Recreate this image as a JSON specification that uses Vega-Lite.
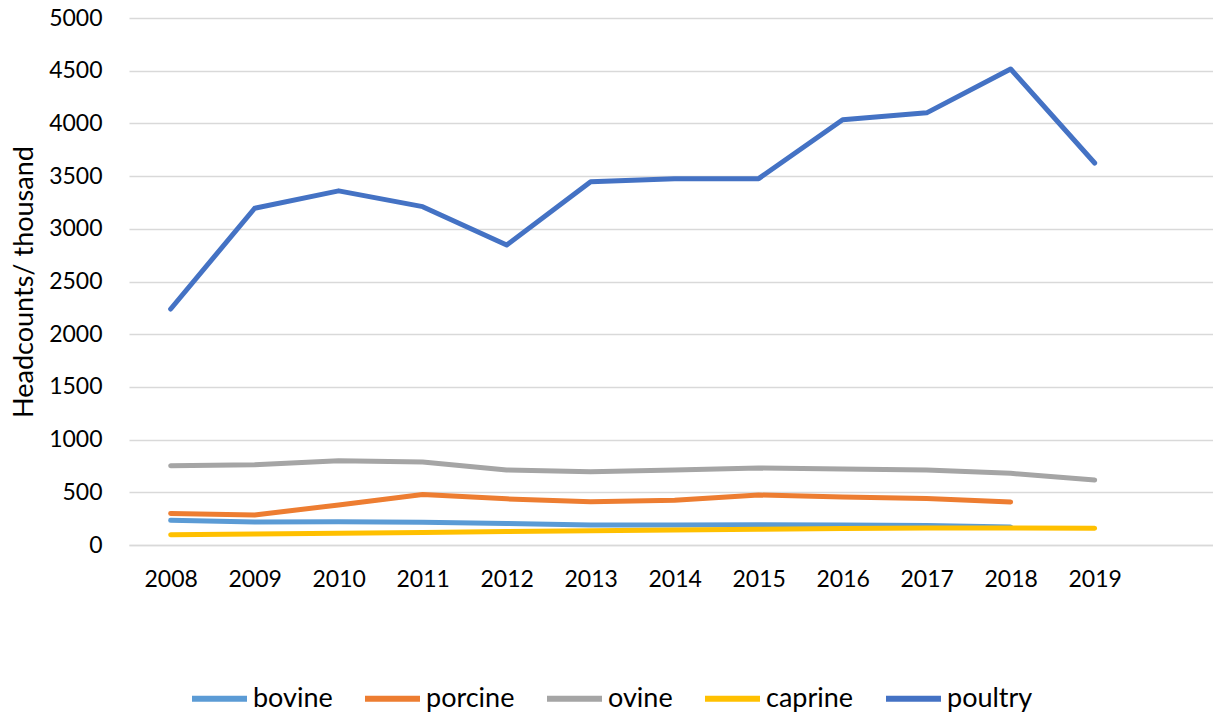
{
  "$schema": "https://vega.github.io/schema/vega-lite/v6.json",
  "autosize": "none",
  "width": 1084,
  "height": 527,
  "padding": {"left": 129, "top": 18, "right": 0, "bottom": 171},
  "background": "white",
  "config": {
    "view": {"stroke": null},
    "font": "Lato",
    "axis": {"labelFont": "Lato", "titleFont": "Lato", "labelColor": "#000000", "titleColor": "#000000"}
  },
  "data": {
    "values": [
      {"year": 2008, "series": "bovine", "value": 234},
      {"year": 2009, "series": "bovine", "value": 218},
      {"year": 2010, "series": "bovine", "value": 220},
      {"year": 2011, "series": "bovine", "value": 216},
      {"year": 2012, "series": "bovine", "value": 204},
      {"year": 2013, "series": "bovine", "value": 190},
      {"year": 2014, "series": "bovine", "value": 190},
      {"year": 2015, "series": "bovine", "value": 192},
      {"year": 2016, "series": "bovine", "value": 190},
      {"year": 2017, "series": "bovine", "value": 185},
      {"year": 2018, "series": "bovine", "value": 170},
      {"year": 2008, "series": "porcine", "value": 300},
      {"year": 2009, "series": "porcine", "value": 285},
      {"year": 2010, "series": "porcine", "value": 380},
      {"year": 2011, "series": "porcine", "value": 480},
      {"year": 2012, "series": "porcine", "value": 438},
      {"year": 2013, "series": "porcine", "value": 410},
      {"year": 2014, "series": "porcine", "value": 425},
      {"year": 2015, "series": "porcine", "value": 474},
      {"year": 2016, "series": "porcine", "value": 455},
      {"year": 2017, "series": "porcine", "value": 440},
      {"year": 2018, "series": "porcine", "value": 408},
      {"year": 2008, "series": "ovine", "value": 752},
      {"year": 2009, "series": "ovine", "value": 762},
      {"year": 2010, "series": "ovine", "value": 800},
      {"year": 2011, "series": "ovine", "value": 788},
      {"year": 2012, "series": "ovine", "value": 712},
      {"year": 2013, "series": "ovine", "value": 695},
      {"year": 2014, "series": "ovine", "value": 712},
      {"year": 2015, "series": "ovine", "value": 730},
      {"year": 2016, "series": "ovine", "value": 720},
      {"year": 2017, "series": "ovine", "value": 712},
      {"year": 2018, "series": "ovine", "value": 680},
      {"year": 2019, "series": "ovine", "value": 617},
      {"year": 2008, "series": "caprine", "value": 98},
      {"year": 2009, "series": "caprine", "value": 104},
      {"year": 2010, "series": "caprine", "value": 112},
      {"year": 2011, "series": "caprine", "value": 119},
      {"year": 2012, "series": "caprine", "value": 128},
      {"year": 2013, "series": "caprine", "value": 136},
      {"year": 2014, "series": "caprine", "value": 142},
      {"year": 2015, "series": "caprine", "value": 150},
      {"year": 2016, "series": "caprine", "value": 156},
      {"year": 2017, "series": "caprine", "value": 161},
      {"year": 2018, "series": "caprine", "value": 161},
      {"year": 2019, "series": "caprine", "value": 158},
      {"year": 2008, "series": "poultry", "value": 2239},
      {"year": 2009, "series": "poultry", "value": 3195},
      {"year": 2010, "series": "poultry", "value": 3360},
      {"year": 2011, "series": "poultry", "value": 3210},
      {"year": 2012, "series": "poultry", "value": 2846},
      {"year": 2013, "series": "poultry", "value": 3447},
      {"year": 2014, "series": "poultry", "value": 3476},
      {"year": 2015, "series": "poultry", "value": 3476},
      {"year": 2016, "series": "poultry", "value": 4035},
      {"year": 2017, "series": "poultry", "value": 4100},
      {"year": 2018, "series": "poultry", "value": 4516},
      {"year": 2019, "series": "poultry", "value": 3624}
    ]
  },
  "mark": {"type": "line", "strokeWidth": 5, "strokeCap": "round", "strokeJoin": "round"},
  "encoding": {
    "x": {
      "field": "year",
      "type": "quantitative",
      "scale": {"domain": [2007.504, 2020.409], "nice": false, "zero": false},
      "axis": {
        "values": [2008, 2009, 2010, 2011, 2012, 2013, 2014, 2015, 2016, 2017, 2018, 2019],
        "format": "d",
        "title": null,
        "grid": false,
        "ticks": false,
        "domain": true,
        "domainColor": "#D9D9D9",
        "domainWidth": 1.5,
        "labelFontSize": 23,
        "labelPadding": 23
      }
    },
    "y": {
      "field": "value",
      "type": "quantitative",
      "scale": {"domain": [0, 5000], "nice": false},
      "axis": {
        "values": [0, 500, 1000, 1500, 2000, 2500, 3000, 3500, 4000, 4500, 5000],
        "format": "d",
        "title": "Headcounts/ thousand",
        "titleFontSize": 27,
        "titleFontWeight": "normal",
        "titlePadding": 10,
        "grid": true,
        "gridColor": "#D9D9D9",
        "gridWidth": 1.5,
        "domain": false,
        "ticks": false,
        "labelFontSize": 23,
        "labelPadding": 27
      }
    },
    "color": {
      "field": "series",
      "type": "nominal",
      "scale": {
        "domain": ["bovine", "porcine", "ovine", "caprine", "poultry"],
        "range": ["#5B9BD5", "#ED7D31", "#A5A5A5", "#FFC000", "#4472C4"]
      },
      "legend": {
        "title": null,
        "orient": "none",
        "direction": "horizontal",
        "legendX": 60,
        "legendY": 650,
        "symbolType": "stroke",
        "symbolSize": 3025,
        "symbolStrokeWidth": 6,
        "labelFont": "Lato",
        "labelFontSize": 27,
        "labelColor": "#000000",
        "labelOffset": 3,
        "columnPadding": 20,
        "padding": 0
      }
    }
  }
}
